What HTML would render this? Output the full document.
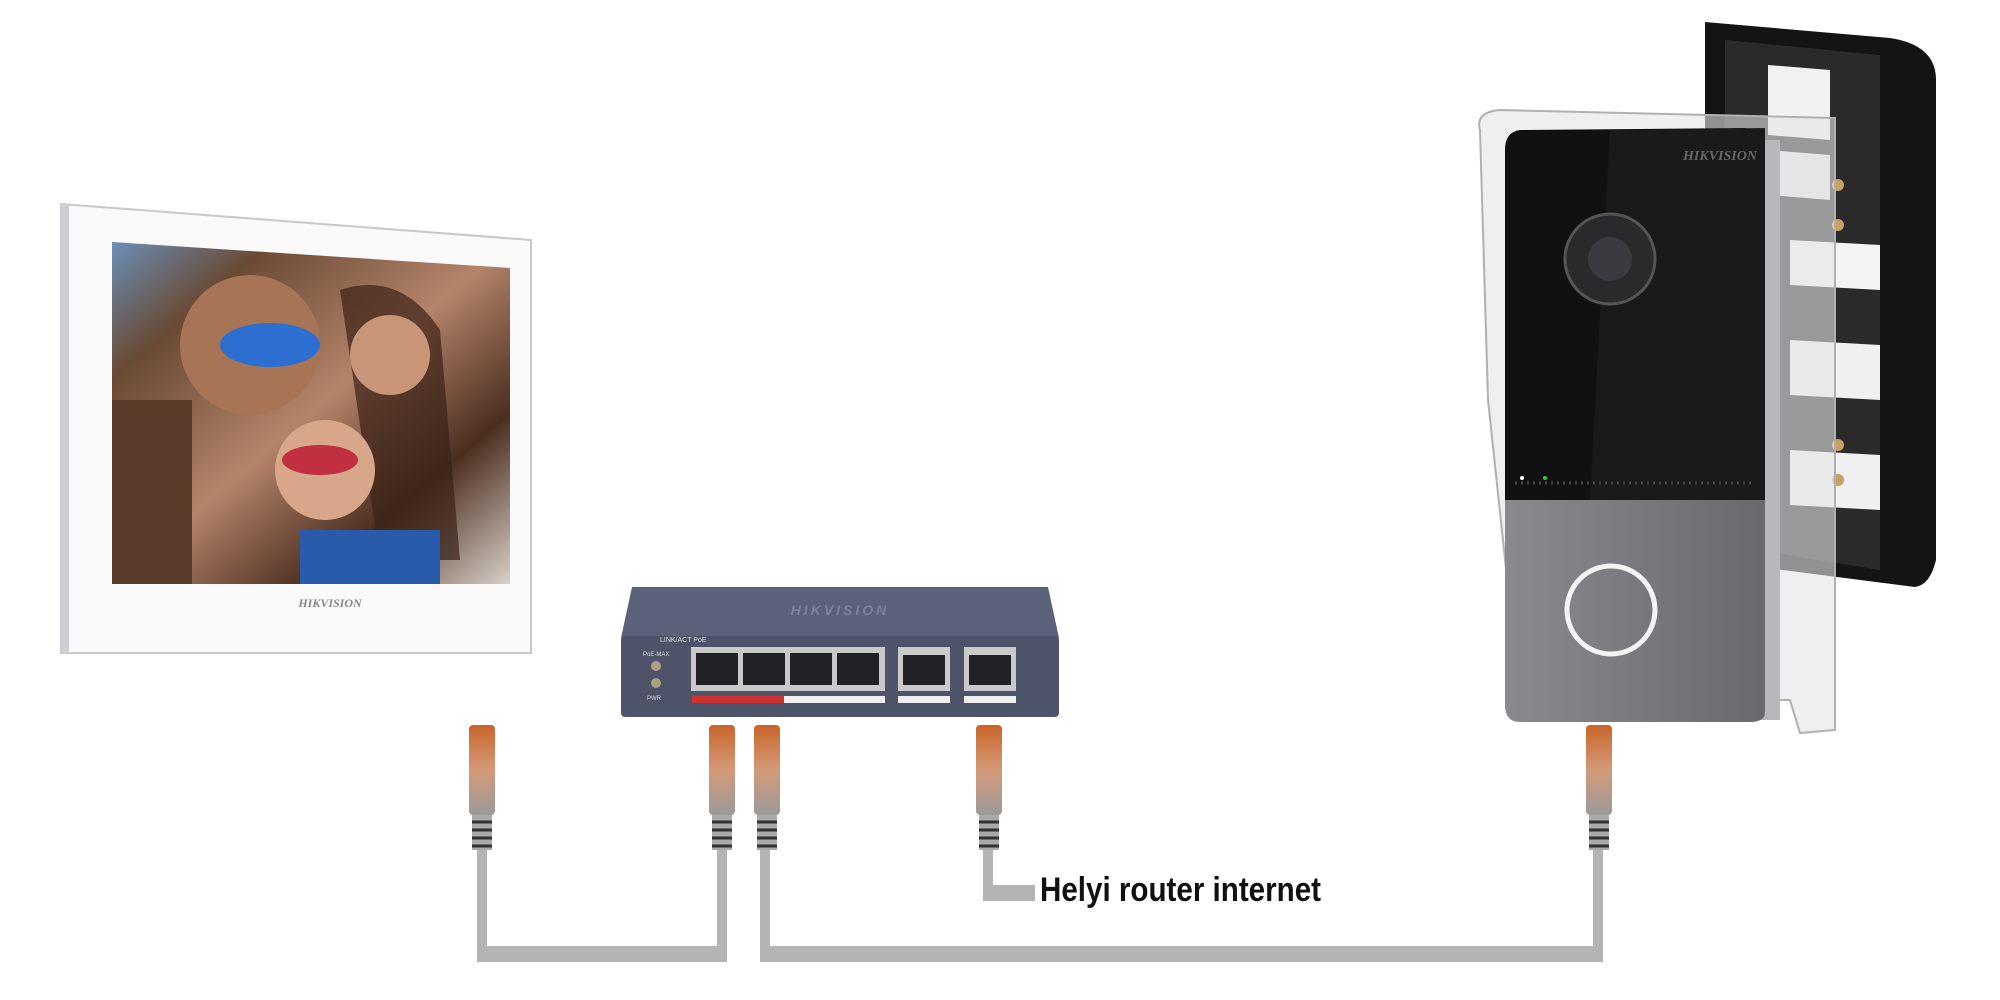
<!DOCTYPE html>
<html><head><meta charset="utf-8"><style>
html,body{margin:0;padding:0;background:#fff;width:2000px;height:1000px;overflow:hidden}
svg{display:block}
</style></head><body>
<svg width="2000" height="1000" viewBox="0 0 2000 1000" xmlns="http://www.w3.org/2000/svg">
<defs>
<linearGradient id="photo" x1="0" y1="0" x2="1" y2="1">
<stop offset="0" stop-color="#6b8fb8"/><stop offset="0.2" stop-color="#6a4a34"/>
<stop offset="0.5" stop-color="#b4846a"/><stop offset="0.75" stop-color="#4b2e20"/><stop offset="1" stop-color="#d8d0c8"/>
</linearGradient>
<linearGradient id="grey" x1="0" y1="0" x2="1" y2="0">
<stop offset="0" stop-color="#8a8a8e"/><stop offset="1" stop-color="#6a6a6e"/></linearGradient>
<linearGradient id="conn" x1="0" y1="0" x2="0" y2="1">
<stop offset="0" stop-color="#c8642a"/><stop offset="0.5" stop-color="#d49a78"/><stop offset="1" stop-color="#9a9a9a"/></linearGradient>
</defs>

<polygon points="61,204 531,240 531,653 61,653" fill="#fafafb" stroke="#c8c8cc" stroke-width="2"/>
<rect x="61" y="204" width="8" height="449" fill="#cfcfd3"/>
<polygon points="112,242 510,268 510,584 112,584" fill="url(#photo)"/>
<rect x="112" y="400" width="80" height="184" fill="#5a3a28"/>
<circle cx="250" cy="345" r="70" fill="#a77556"/>
<path d="M340 290 Q400 270 440 330 L460 560 L380 560 Z" fill="#3a2218" opacity="0.7"/>
<circle cx="390" cy="355" r="40" fill="#c89676"/>
<circle cx="325" cy="470" r="50" fill="#d8a688"/>
<rect x="300" y="530" width="140" height="54" fill="#2a5aaa"/>
<ellipse cx="270" cy="345" rx="50" ry="22" fill="#2d6fd0"/>
<ellipse cx="320" cy="460" rx="38" ry="15" fill="#c03040"/>
<text x="330" y="607" font-family="Liberation Serif" font-size="12" font-style="italic" font-weight="bold" fill="#888" text-anchor="middle">HIKVISION</text>

<polygon points="632,587 1048,587 1059,638 621,638" fill="#5a6178"/>
<rect x="621" y="636" width="438" height="81" rx="4" fill="#4d5469"/>
<text x="840" y="615" font-family="Liberation Sans" font-size="14" font-style="italic" font-weight="bold" fill="#7d8396" text-anchor="middle" letter-spacing="3">HIKVISION</text>
<text x="660" y="642" font-family="Liberation Sans" font-size="7" fill="#ddd">LINK/ACT  PoE</text>
<circle cx="656" cy="666" r="5" fill="#b0a080"/><circle cx="656" cy="683" r="5" fill="#b0a080"/>
<text x="643" y="656" font-family="Liberation Sans" font-size="6" fill="#ddd">PoE-MAX</text>
<text x="647" y="700" font-family="Liberation Sans" font-size="6" fill="#ddd">PWR</text>
<g fill="#c9c9c9">
<rect x="691" y="647" width="194" height="44"/><rect x="898" y="647" width="52" height="44"/><rect x="964" y="647" width="52" height="44"/></g>
<g fill="#202226">
<rect x="696" y="653" width="42" height="32"/><rect x="743" y="653" width="42" height="32"/><rect x="790" y="653" width="42" height="32"/><rect x="837" y="653" width="42" height="32"/>
<rect x="903" y="655" width="42" height="30"/><rect x="969" y="655" width="42" height="30"/></g>
<rect x="692" y="696" width="92" height="7" fill="#d03030"/><rect x="784" y="696" width="101" height="7" fill="#f0f0f0"/>
<rect x="898" y="696" width="52" height="7" fill="#f0f0f0"/><rect x="964" y="696" width="52" height="7" fill="#f0f0f0"/>

<g fill="none" stroke="#b4b4b4" stroke-width="10">
<polyline points="482,845 482,957 722,957 722,845"/>
<polyline points="765,845 765,957 1598,957 1598,845"/>
<polyline points="988,845 988,893 1035,893"/>
</g>
<rect x="477" y="946" width="250" height="16" fill="#b4b4b4"/>
<rect x="760" y="946" width="843" height="16" fill="#b4b4b4"/>
<rect x="983" y="885" width="52" height="16" fill="#b4b4b4"/>
<g>
<g transform="translate(482,0)"><rect x="-13" y="725" width="26" height="90" rx="4" fill="url(#conn)"/><rect x="-10" y="815" width="20" height="35" fill="#aaa"/><path d="M-10 822h20M-10 830h20M-10 838h20M-10 846h20" stroke="#333" stroke-width="3"/></g>
<g transform="translate(722,0)"><rect x="-13" y="725" width="26" height="90" rx="4" fill="url(#conn)"/><rect x="-10" y="815" width="20" height="35" fill="#aaa"/><path d="M-10 822h20M-10 830h20M-10 838h20M-10 846h20" stroke="#333" stroke-width="3"/></g>
<g transform="translate(767,0)"><rect x="-13" y="725" width="26" height="90" rx="4" fill="url(#conn)"/><rect x="-10" y="815" width="20" height="35" fill="#aaa"/><path d="M-10 822h20M-10 830h20M-10 838h20M-10 846h20" stroke="#333" stroke-width="3"/></g>
<g transform="translate(989,0)"><rect x="-13" y="725" width="26" height="90" rx="4" fill="url(#conn)"/><rect x="-10" y="815" width="20" height="35" fill="#aaa"/><path d="M-10 822h20M-10 830h20M-10 838h20M-10 846h20" stroke="#333" stroke-width="3"/></g>
<g transform="translate(1599,0)"><rect x="-13" y="725" width="26" height="90" rx="4" fill="url(#conn)"/><rect x="-10" y="815" width="20" height="35" fill="#aaa"/><path d="M-10 822h20M-10 830h20M-10 838h20M-10 846h20" stroke="#333" stroke-width="3"/></g>
</g>
<text x="1040" y="901" font-family="Liberation Sans" font-size="34" font-weight="bold" fill="#111" transform="translate(1040,0) scale(0.87,1) translate(-1040,0)">Helyi router internet</text>

<path d="M1705 22 L1890 38 Q1936 45 1936 80 L1936 560 Q1930 585 1915 587 L1705 560 Z" fill="#141414"/>
<path d="M1725 40 L1880 55 L1880 570 L1725 545 Z" fill="#2a2a2a"/>
<polygon points="1768,65 1830,70 1830,140 1768,135" fill="#f2f2f2"/>
<polygon points="1768,150 1830,155 1830,200 1768,195" fill="#e6e6e6"/>
<polygon points="1790,240 1880,245 1880,290 1790,285" fill="#f4f4f4"/>
<polygon points="1790,340 1880,345 1880,400 1790,395" fill="#f0f0f0"/>
<polygon points="1790,450 1880,455 1880,510 1790,505" fill="#f0f0f0"/>
<g fill="#c8a060"><circle cx="1838" cy="185" r="6"/><circle cx="1838" cy="225" r="6"/><circle cx="1838" cy="445" r="6"/><circle cx="1838" cy="480" r="6"/></g>
<path d="M1480 130 Q1475 112 1500 110 L1835 118 L1835 730 L1800 733 L1790 700 L1520 700 L1488 400 Z" fill="#e4e4e4" fill-opacity="0.6" stroke="#b0b0b0" stroke-width="2"/>
<rect x="1750" y="140" width="30" height="580" fill="#b8b8bc"/>
<path d="M1520 130 Q1505 132 1505 150 L1505 500 L1765 500 L1765 150 Q1765 132 1745 128 Z" fill="#111"/>
<path d="M1505 500 L1765 500 L1765 712 Q1765 722 1750 722 L1520 722 Q1505 722 1505 705 Z" fill="url(#grey)"/>
<polygon points="1610,130 1765,128 1765,500 1590,500" fill="#1a1a1a"/>
<text x="1720" y="160" font-family="Liberation Serif" font-size="14" font-style="italic" font-weight="bold" fill="#666" text-anchor="middle">HIKVISION</text>
<circle cx="1610" cy="259" r="45" fill="#2a2a2c" stroke="#555" stroke-width="3"/>
<circle cx="1610" cy="259" r="22" fill="#3a3a40"/>
<circle cx="1611" cy="610" r="44" fill="none" stroke="#f4f4f4" stroke-width="5"/>
<line x1="1515" y1="483" x2="1755" y2="483" stroke="#444" stroke-width="3" stroke-dasharray="2 4"/>
<circle cx="1522" cy="478" r="2" fill="#fff"/><circle cx="1545" cy="478" r="2" fill="#3c3"/>
</svg>
</body></html>
